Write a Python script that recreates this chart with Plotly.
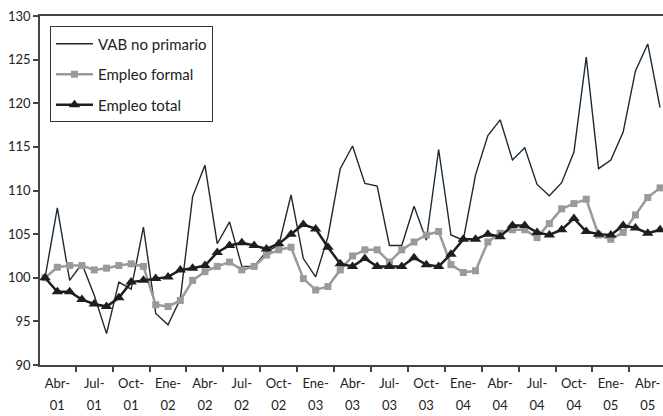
import plotly.graph_objects as go

# monthly series, Mar-01 .. May-05 (index 0 = Mar-01)
vab_no_primario = [
    100.0, 108.0, 99.7, 101.6, 98.0, 93.6, 99.5, 98.7, 105.8, 95.9,
    94.6, 97.6, 109.3, 112.9, 103.9, 106.4, 101.3, 101.3, 103.0, 103.7,
    109.5, 102.2, 100.1, 104.7, 112.5, 115.1, 110.8, 110.5, 103.7, 103.7,
    108.2, 104.3, 114.7, 104.9, 104.3, 111.8, 116.3, 118.1, 113.5, 114.9,
    110.7, 109.4, 110.9, 114.4, 125.3, 112.5, 113.5, 116.7, 123.7, 126.8,
    119.5,
]
empleo_formal = [
    100.0, 101.2, 101.4, 101.4, 100.9, 101.1, 101.4, 101.6, 101.3, 96.9,
    96.7, 97.4, 99.7, 100.7, 101.3, 101.8, 100.9, 101.3, 102.6, 103.2,
    103.5, 99.9, 98.6, 99.0, 100.9, 102.5, 103.2, 103.2, 101.8, 103.2,
    104.1, 104.9, 105.3, 101.5, 100.6, 100.8, 104.1, 105.1, 105.5, 105.5,
    104.6, 106.2, 107.9, 108.5, 109.0, 104.9, 104.4, 105.2, 107.2, 109.2,
    110.3,
]
empleo_total = [
    100.0, 98.4, 98.4, 97.5, 97.0, 96.7, 97.7, 99.5, 99.7, 99.9,
    100.1, 100.9, 101.1, 101.4, 102.9, 103.7, 104.0, 103.7, 103.3, 103.9,
    105.0, 106.1, 105.6, 103.5, 101.6, 101.3, 102.2, 101.3, 101.3, 101.3,
    102.3, 101.5, 101.3, 102.7, 104.4, 104.4, 105.0, 104.7, 106.0, 106.0,
    105.2, 104.9, 105.5, 106.8, 105.3, 105.0, 104.9, 106.0, 105.7, 105.1,
    105.5,
]

tick_pos = [1, 4, 7, 10, 13, 16, 19, 22, 25, 28, 31, 34, 37, 40, 43, 46, 49]
tick_mes = ["Abr-", "Jul-", "Oct-", "Ene-", "Abr-", "Jul-", "Oct-", "Ene-", "Abr-",
            "Jul-", "Oct-", "Ene-", "Abr-", "Jul-", "Oct-", "Ene-", "Abr-"]
tick_anio = ["01", "01", "01", "02", "02", "02", "02", "03", "03",
             "03", "03", "04", "04", "04", "04", "05", "05"]

x = list(range(len(vab_no_primario)))
x_range = [-0.41, 50.24]
font = "Lato, 'Open Sans', sans-serif"
axis_col = "#444444"

fig = go.Figure()
fig.add_trace(go.Scatter(
    x=x, y=vab_no_primario, mode="lines", name="VAB no primario",
    line=dict(color="#1c2a35", width=1.4), legendgroup="a",
))
fig.add_trace(go.Scatter(
    x=x, y=empleo_formal, mode="lines+markers", name="Empleo formal",
    line=dict(color="#9a9a9a", width=2.5),
    marker=dict(symbol="square", size=7, color="#9a9a9a"), legendgroup="b",
))
fig.add_trace(go.Scatter(
    x=x, y=empleo_total, mode="lines+markers", name="Empleo total",
    line=dict(color="#1e1e1e", width=2.5),
    marker=dict(symbol="triangle-up", size=10, color="#1e1e1e"), legendgroup="c",
))
# empty trace so the second (year) axis gets drawn
fig.add_trace(go.Scatter(
    x=[tick_pos[0]], y=[None], xaxis="x2", mode="lines",
    showlegend=False, hoverinfo="skip",
))

fig.update_layout(
    width=663, height=416,
    margin=dict(l=40, r=0, t=16, b=51),
    plot_bgcolor="white", paper_bgcolor="white",
    font=dict(family=font, size=13, color="#222222"),
    showlegend=True,
    legend=dict(
        x=0.016, y=0.97, xanchor="left", yanchor="top",
        bordercolor="#333333", borderwidth=1, bgcolor="white",
        font=dict(size=15, color="#222222"),
        tracegroupgap=8, traceorder="grouped", itemwidth=37,
    ),
    xaxis=dict(
        range=x_range, tickmode="array", tickvals=tick_pos, ticktext=tick_mes,
        ticks="", showgrid=False, zeroline=False, automargin=False,
        showline=True, linecolor=axis_col, linewidth=1.5, mirror=True,
        ticklabelstandoff=6,
        minor=dict(tickmode="array", tickvals=[i + 2.5 for i in range(-3, 51, 3)],
                   ticks="outside", ticklen=5, tickcolor=axis_col, tickwidth=1.5,
                   showgrid=False),
    ),
    xaxis2=dict(
        range=x_range, overlaying="x", anchor="y", side="bottom",
        tickmode="array", tickvals=tick_pos, ticktext=tick_anio,
        ticks="", showgrid=False, zeroline=False, showline=False,
        automargin=False, ticklabelstandoff=31,
    ),
    yaxis=dict(
        range=[90, 130], dtick=5, ticks="outside", ticklen=5, automargin=False,
        tickcolor=axis_col, tickwidth=1.5, showgrid=False, zeroline=False,
        showline=True, linecolor=axis_col, linewidth=1.5,
    ),
)

fig.write_html(
    "out.html",
    config={"displayModeBar": False},
    post_script="document.body.style.margin = '0';",
)
